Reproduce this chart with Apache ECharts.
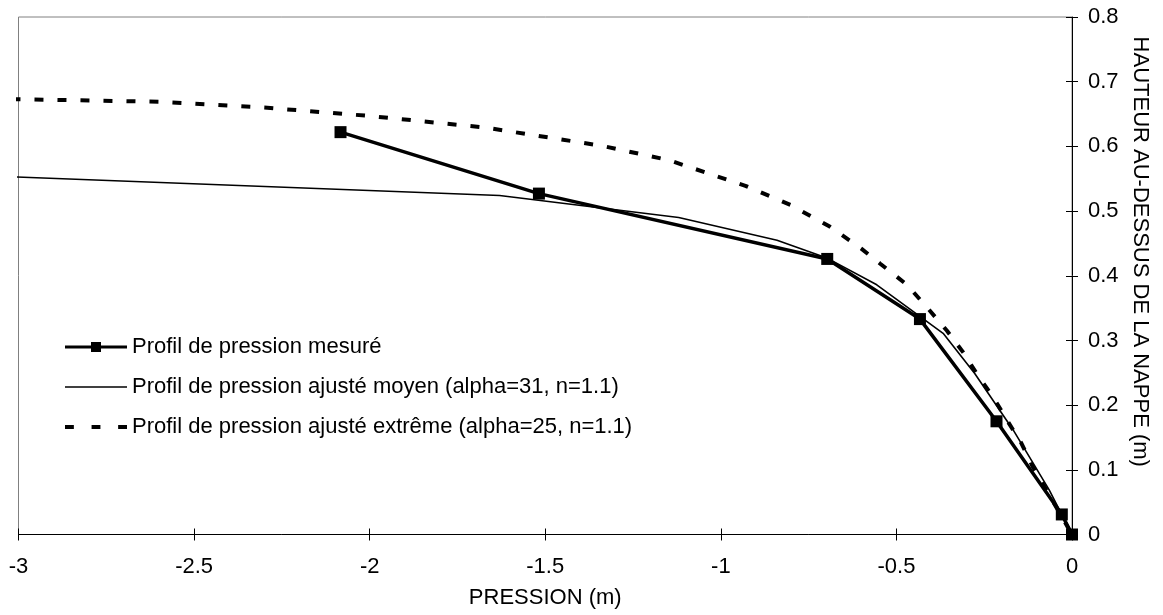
<!DOCTYPE html>
<html>
<head>
<meta charset="utf-8">
<script src="https://cdn.jsdelivr.net/npm/echarts@6/dist/echarts.min.js"></script>
<style>
html,body{margin:0;padding:0;background:#fff;}
#chart{width:1163px;height:615px;}
</style>
</head>
<body>
<div id="chart"></div>
<script>
// Measured pressure profile
const mesureX = [-2.083, -1.518, -0.697, -0.433, -0.215, -0.029, 0];
const mesureY = [0.622, 0.527, 0.426, 0.333, 0.175, 0.031, 0];

// Fitted profile (mean)
const moyenX = [-3.02, -1.63, -1.12, -0.84, -0.70, -0.556, -0.44, -0.367, -0.277, -0.168, -0.065, -0.03, 0];
const moyenY = [0.553, 0.524, 0.490, 0.455, 0.428, 0.386, 0.340, 0.311, 0.249, 0.162, 0.069, 0.032, 0];

// Fitted profile (extreme)
const extremeX = [-3.02, -2.6, -2.3, -2.0, -1.67, -1.34, -1.15, -0.93, -0.80, -0.69, -0.60, -0.547, -0.47, -0.408, -0.356, -0.309, -0.267, -0.223, -0.182, -0.144, -0.112, -0.074, -0.035, 0];
const extremeY = [0.673, 0.669, 0.660, 0.647, 0.629, 0.601, 0.579, 0.539, 0.509, 0.476, 0.442, 0.419, 0.386, 0.348, 0.315, 0.281, 0.245, 0.211, 0.174, 0.141, 0.105, 0.070, 0.033, 0];

const seriesNames = [
  'Profil de pression mesuré',
  'Profil de pression ajusté moyen (alpha=31, n=1.1)',
  'Profil de pression ajusté extrême (alpha=25, n=1.1)'
];
const xTitle = 'PRESSION (m)';
const yTitle = 'HAUTEUR AU-DESSUS DE LA NAPPE (m)';

const zip = (xs, ys) => xs.map((x, i) => [x, ys[i]]);
const FONT = '"Liberation Sans", Arial, sans-serif';
const FS = 22;

const chart = echarts.init(document.getElementById('chart'), null, {renderer: 'canvas'});
chart.setOption({
  animation: false,
  backgroundColor: '#ffffff',
  grid: {
    left: 18.5, right: 91, top: 17, bottom: 80.5,
    show: true, borderColor: '#808080', borderWidth: 1, backgroundColor: 'transparent'
  },
  legend: {
    orient: 'vertical',
    left: 60, top: 331,
    itemWidth: 62, itemHeight: 12,
    itemGap: 18,
    symbolKeepAspect: true,
    textStyle: {fontFamily: FONT, fontSize: FS, color: '#000'},
    data: [
      {name: seriesNames[0], icon: 'path://M0,4h62v3h-62z M26,0.5h10v10h-10z'},
      {name: seriesNames[1], icon: 'path://M0,0h62v1.6h-62z'},
      {name: seriesNames[2], icon: 'path://M0,0h8v3.5h-8z M24,0h8v3.5h-8z M48,0h8v3.5h-8z'}
    ]
  },
  xAxis: [{
    type: 'value', min: -3, max: 0, interval: 0.5,
    position: 'bottom',
    name: xTitle, nameLocation: 'middle', nameGap: 52,
    nameTextStyle: {fontFamily: FONT, fontSize: FS, color: '#000'},
    axisLine: {show: true, onZero: false, lineStyle: {color: '#000', width: 1}},
    axisTick: {show: true, inside: false, length: 6, lineStyle: {color: '#000'}},
    axisLabel: {fontFamily: FONT, fontSize: FS, color: '#000', margin: 21},
    splitLine: {show: false}
  }, {
    type: 'value', min: -3, max: 0, interval: 0.5,
    position: 'bottom',
    axisLine: {show: false},
    axisTick: {show: true, inside: true, length: 6, lineStyle: {color: '#000'}},
    axisLabel: {show: false},
    splitLine: {show: false}
  }],
  yAxis: [{
    type: 'value', min: 0, max: 0.8, interval: 0.1,
    position: 'right',
    name: yTitle, nameLocation: 'middle', nameRotate: -90, nameGap: 57,
    nameTextStyle: {fontFamily: FONT, fontSize: FS, color: '#000', padding: [0, 48, 0, 0]},
    axisLine: {show: true, onZero: false, lineStyle: {color: '#000', width: 1}},
    axisTick: {show: true, inside: false, length: 6, lineStyle: {color: '#000'}},
    axisLabel: {fontFamily: FONT, fontSize: FS, color: '#000', margin: 16,
      formatter: v => (Math.round(v * 10) / 10).toString()},
    splitLine: {show: false}
  }, {
    type: 'value', min: 0, max: 0.8, interval: 0.1,
    position: 'right',
    axisLine: {show: false},
    axisTick: {show: true, inside: true, length: 6, lineStyle: {color: '#000'}},
    axisLabel: {show: false},
    splitLine: {show: false}
  }],
  series: [{
    name: seriesNames[1], type: 'line',
    data: zip(moyenX, moyenY),
    showSymbol: false, symbol: 'none', clip: false,
    lineStyle: {color: '#000', width: 1.6},
    itemStyle: {color: '#000'},
    z: 3
  }, {
    name: seriesNames[2], type: 'line',
    data: zip(extremeX, extremeY),
    showSymbol: false, symbol: 'none', clip: false,
    lineStyle: {color: '#000', width: 4, type: [9, 14]},
    itemStyle: {color: '#000'},
    z: 2
  }, {
    name: seriesNames[0], type: 'line',
    data: zip(mesureX, mesureY),
    symbol: 'rect', symbolSize: 12, clip: false,
    lineStyle: {color: '#000', width: 3.5},
    itemStyle: {color: '#000'},
    z: 4
  }]
});
</script>
</body>
</html>
